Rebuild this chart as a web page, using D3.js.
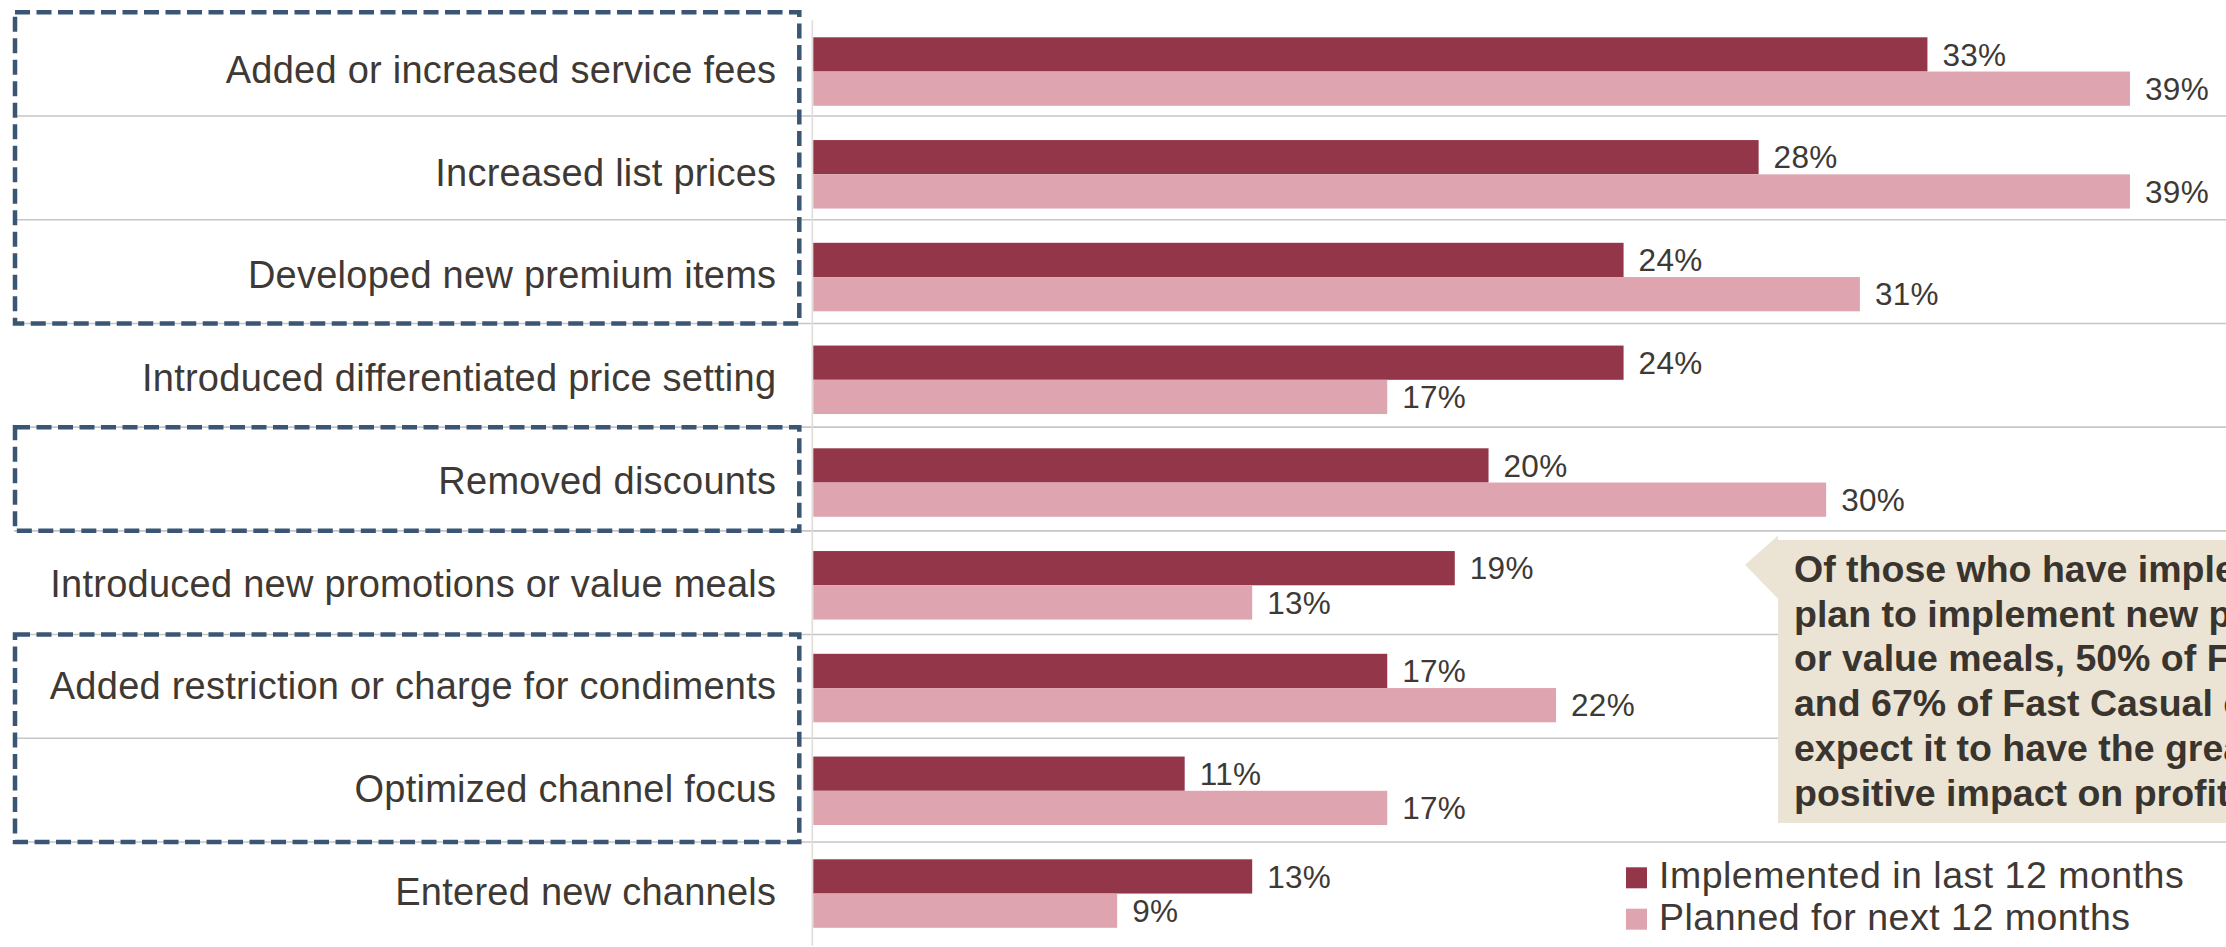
<!DOCTYPE html>
<html>
<head>
<meta charset="utf-8">
<script src="https://cdn.jsdelivr.net/npm/d3@7"></script>
<style>
  html, body { margin: 0; padding: 0; background: #ffffff; }
  svg { display: block; }
  text { font-family: "Liberation Sans", Arial, Helvetica, sans-serif; }
</style>
</head>
<body>
<svg id="chart" width="2226" height="947"></svg>
<script>
// Pricing actions taken by operators
const categories = [
  "Added or increased service fees",
  "Increased list prices",
  "Developed new premium items",
  "Introduced differentiated price setting",
  "Removed discounts",
  "Introduced new promotions or value meals",
  "Added restriction or charge for condiments",
  "Optimized channel focus",
  "Entered new channels"
];
const implemented = [33, 28, 24, 24, 20, 19, 17, 11, 13];
const planned     = [39, 39, 31, 17, 30, 13, 22, 17, 9];

const seriesKeys   = ["implemented", "planned"];
const seriesLabels = ["Implemented in last 12 months", "Planned for next 12 months"];
const seriesColors = ["#93364a", "#dea5b1"];

// Groups of rows outlined with a dashed frame (first and last category of each)
const highlightGroups = [
  ["Added or increased service fees", "Developed new premium items"],
  ["Removed discounts", "Removed discounts"],
  ["Added restriction or charge for condiments", "Optimized channel focus"]
];

const calloutLines = [
  "Of those who have implemented or",
  "plan to implement new promotions",
  "or value meals, 50% of Fast Food",
  "and 67% of Fast Casual operators",
  "expect it to have the greatest",
  "positive impact on profitability"
];

const W = 2226, H = 947;
const textColor = "#3e3934";
const svg = d3.select("#chart");

const rows = categories.map((c, i) => ({
  category: c,
  values: [
    { key: "implemented", value: implemented[i] },
    { key: "planned", value: planned[i] }
  ]
}));

// Scales
const x = d3.scaleLinear().domain([0, 39]).range([813.3, 2130]);
const yRow = d3.scaleBand().domain(categories).range([12.3, 945.7]).padding(0);
const yBar = d3.scaleBand().domain(categories).range([37.3, 927.8])
  .paddingInner(1 / 3).paddingOuter(0);
const ySeries = d3.scaleBand().domain(seriesKeys).range([0, yBar.bandwidth()]);
const color = d3.scaleOrdinal().domain(seriesKeys).range(seriesColors);

// Row separators
svg.append("g")
  .selectAll("line")
  .data(categories.slice(1))
  .join("line")
  .attr("x1", 14)
  .attr("x2", W)
  .attr("y1", d => yRow(d))
  .attr("y2", d => yRow(d))
  .attr("stroke", "#c6c6c6")
  .attr("stroke-width", 1.6);

// Baseline of the bars
svg.append("line")
  .attr("x1", x(0) - 1).attr("x2", x(0) - 1)
  .attr("y1", yRow.range()[0] + 8)
  .attr("y2", yRow.range()[1])
  .attr("stroke", "#e2dcd8")
  .attr("stroke-width", 1.6);

// Bars
const groups = svg.append("g")
  .selectAll("g")
  .data(rows)
  .join("g")
  .attr("transform", d => `translate(0,${yBar(d.category)})`);

groups.selectAll("rect")
  .data(d => d.values)
  .join("rect")
  .attr("x", x(0))
  .attr("y", d => ySeries(d.key))
  .attr("width", d => x(d.value) - x(0))
  .attr("height", ySeries.bandwidth())
  .attr("fill", d => color(d.key));

// Value labels
groups.selectAll("text")
  .data(d => d.values)
  .join("text")
  .attr("x", d => x(d.value) + 15)
  .attr("y", d => ySeries(d.key) + ySeries.bandwidth() / 2 + 11.2)
  .attr("font-size", 31.5)
  .attr("letter-spacing", 0.3)
  .attr("fill", textColor)
  .text(d => d.value + "%");

// Category labels
const yAxis = d3.axisLeft(yBar).tickSize(0).tickPadding(37);
const axisG = svg.append("g")
  .attr("transform", `translate(${x(0)},0)`)
  .call(yAxis);
axisG.select(".domain").remove();
axisG.selectAll("text")
  .attr("font-size", 38)
  .attr("letter-spacing", 0.25)
  .attr("font-family", '"Liberation Sans", Arial, sans-serif')
  .attr("fill", textColor)
  .attr("dy", "0.3em");

// Dashed frames around highlighted rows
svg.append("g")
  .selectAll("rect")
  .data(highlightGroups)
  .join("rect")
  .attr("x", 15)
  .attr("y", d => yRow(d[0]))
  .attr("width", 799.3 - 15)
  .attr("height", d => yRow(d[1]) + yRow.bandwidth() - yRow(d[0]))
  .attr("fill", "none")
  .attr("stroke", "#3b5574")
  .attr("stroke-width", 4.5)
  .attr("stroke-dasharray", "15 6.5");

// Callout box pointing at the promotions row
const calloutRow = "Introduced new promotions or value meals";
const tipY = yBar(calloutRow) + yBar.bandwidth() * 0.2;
const callout = svg.append("g");
callout.append("path")
  .attr("d", `M1745,${tipY} L1778,${tipY - 29} L1778,${tipY + 34} Z`)
  .attr("fill", "#ebe4d4");
callout.append("rect")
  .attr("x", 1778)
  .attr("y", 540)
  .attr("width", 600)
  .attr("height", 283)
  .attr("fill", "#ebe4d4");
callout.selectAll("text")
  .data(calloutLines)
  .join("text")
  .attr("x", 1794)
  .attr("y", (d, i) => 581.7 + i * 44.8)
  .attr("font-size", 37.5)
  .attr("font-weight", "bold")
  .attr("fill", "#3a342e")
  .text(d => d);

// Legend
const legend = svg.append("g")
  .selectAll("g")
  .data(seriesKeys)
  .join("g")
  .attr("transform", (d, i) => `translate(1626,${888.3 + i * 41.4})`);
legend.append("rect")
  .attr("x", 0)
  .attr("y", -21)
  .attr("width", 21)
  .attr("height", 21)
  .attr("fill", d => color(d));
legend.append("text")
  .attr("x", 33)
  .attr("y", 0)
  .attr("font-size", 37.5)
  .attr("letter-spacing", 0.5)
  .attr("fill", textColor)
  .text((d, i) => seriesLabels[i]);
</script>
</body>
</html>
